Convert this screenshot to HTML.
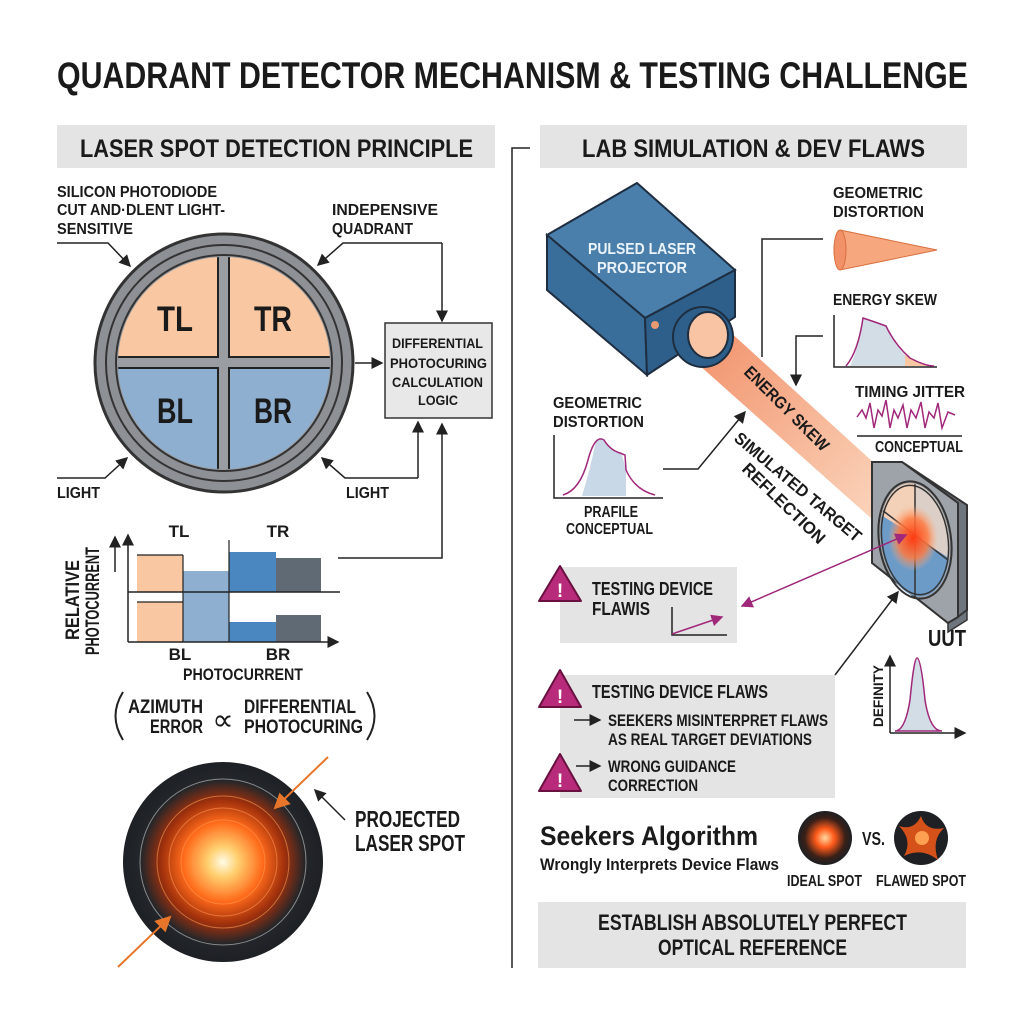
<!DOCTYPE html>
<html><head><meta charset="utf-8"><style>
html,body{margin:0;padding:0;background:#fff}
svg{display:block}
text{font-family:"Liberation Sans",sans-serif;font-weight:bold;fill:#1a1a1a}
</style></head><body>
<svg width="1024" height="1024" viewBox="0 0 1024 1024" xmlns="http://www.w3.org/2000/svg">
<defs>
<radialGradient id="spot" cx="50%" cy="50%" r="50%">
<stop offset="0" stop-color="#fffbe8"/><stop offset="0.15" stop-color="#ffd070"/><stop offset="0.4" stop-color="#ff6a1a"/><stop offset="0.62" stop-color="#a0300c"/><stop offset="0.82" stop-color="#23262a"/><stop offset="1" stop-color="#1d2024"/></radialGradient>
<radialGradient id="spot2" cx="50%" cy="50%" r="50%">
<stop offset="0" stop-color="#ffd9a0"/><stop offset="0.35" stop-color="#ff5a1a"/><stop offset="0.75" stop-color="#3a2018"/><stop offset="1" stop-color="#1d2024"/></radialGradient>
<radialGradient id="hot" cx="50%" cy="50%" r="50%"><stop offset="0" stop-color="#ff3a10"/><stop offset="0.6" stop-color="#ff7a40" stop-opacity=".85"/><stop offset="1" stop-color="#ffb080" stop-opacity="0"/></radialGradient>
<linearGradient id="beam" x1="0" y1="0" x2="1" y2="1"><stop offset="0" stop-color="#f0855a"/><stop offset="1" stop-color="#fad0b5"/></linearGradient>
<marker id="ar" markerWidth="8" markerHeight="8" refX="7" refY="4" orient="auto"><path d="M0,0 L8,4 L0,8 z" fill="#222"/></marker>
<marker id="arp" markerWidth="8" markerHeight="8" refX="7" refY="4" orient="auto"><path d="M0,0 L8,4 L0,8 z" fill="#a0287a"/></marker>
<marker id="arps" markerWidth="8" markerHeight="8" refX="1" refY="4" orient="auto"><path d="M8,0 L0,4 L8,8 z" fill="#a0287a"/></marker>
<marker id="aro" markerWidth="8" markerHeight="8" refX="7" refY="4" orient="auto"><path d="M0,0 L8,4 L0,8 z" fill="#e8762a"/></marker>
</defs>

<text x="57" y="88" font-size="37" textLength="911" lengthAdjust="spacingAndGlyphs">QUADRANT DETECTOR MECHANISM &amp; TESTING CHALLENGE</text>

<rect x="57" y="125" width="438" height="43" fill="#e4e4e4"/>
<text x="80" y="157" font-size="25" textLength="393" lengthAdjust="spacingAndGlyphs">LASER SPOT DETECTION PRINCIPLE</text>
<rect x="540" y="125" width="427" height="43" fill="#e4e4e4"/>
<text x="582" y="157" font-size="25" textLength="343" lengthAdjust="spacingAndGlyphs">LAB SIMULATION &amp; DEV FLAWS</text>
<path d="M530 148 H512 V968" stroke="#222" stroke-width="1.5" fill="none"/>

<g font-size="16">
<text x="57" y="197" textLength="160" lengthAdjust="spacingAndGlyphs">SILICON PHOTODIODE</text>
<text x="57" y="215" textLength="168" lengthAdjust="spacingAndGlyphs">CUT AND·DLENT LIGHT-</text>
<text x="57" y="234" textLength="76" lengthAdjust="spacingAndGlyphs">SENSITIVE</text>
<text x="332" y="215" textLength="106" lengthAdjust="spacingAndGlyphs">INDEPENSIVE</text>
<text x="332" y="234" textLength="81" lengthAdjust="spacingAndGlyphs">QUADRANT</text>
<text x="57" y="498" textLength="43" lengthAdjust="spacingAndGlyphs">LIGHT</text>
<text x="346" y="498" textLength="43" lengthAdjust="spacingAndGlyphs">LIGHT</text>
</g>
<path d="M57 243 H108 L130 266" stroke="#222" stroke-width="1.5" fill="none" marker-end="url(#ar)"/>
<path d="M442 243 H343 L318 265" stroke="#222" stroke-width="1.5" fill="none" marker-end="url(#ar)"/>
<path d="M442 243 V321" stroke="#222" stroke-width="1.5" fill="none" marker-end="url(#ar)"/>
<path d="M355 363 H382" stroke="#222" stroke-width="1.5" marker-end="url(#ar)"/>
<path d="M57 478 H105 L127 458" stroke="#222" stroke-width="1.5" fill="none" marker-end="url(#ar)"/>
<path d="M418 478 H345 L322 458" stroke="#222" stroke-width="1.5" fill="none" marker-end="url(#ar)"/>
<path d="M418 478 V422" stroke="#222" stroke-width="1.5" fill="none" marker-end="url(#ar)"/>

<circle cx="224" cy="363" r="129" fill="#8d9196" stroke="#333" stroke-width="3"/>
<circle cx="224" cy="363" r="118" fill="none" stroke="#333" stroke-width="2"/>
<circle cx="224" cy="363" r="108" fill="#9a9ea3" stroke="#333" stroke-width="2"/>
<clipPath id="cc"><circle cx="224" cy="363" r="106"/></clipPath>
<g clip-path="url(#cc)" stroke="#222" stroke-width="2">
<rect x="100" y="240" width="118" height="117" fill="#f9c8a2"/>
<rect x="229" y="240" width="118" height="117" fill="#f9c8a2"/>
<rect x="100" y="368" width="118" height="117" fill="#8eafd0"/>
<rect x="229" y="368" width="118" height="117" fill="#8eafd0"/>
</g>
<g font-size="35" text-anchor="middle">
<text x="175" y="331" textLength="36" lengthAdjust="spacingAndGlyphs">TL</text>
<text x="273" y="331" textLength="38" lengthAdjust="spacingAndGlyphs">TR</text>
<text x="175" y="423" textLength="36" lengthAdjust="spacingAndGlyphs">BL</text>
<text x="273" y="423" textLength="38" lengthAdjust="spacingAndGlyphs">BR</text>
</g>

<rect x="385" y="323" width="107" height="95" fill="#e8e8e8" stroke="#333" stroke-width="1.5"/>
<g font-size="14">
<text x="392" y="348" textLength="91" lengthAdjust="spacingAndGlyphs">DIFFERENTIAL</text>
<text x="390" y="368" textLength="97" lengthAdjust="spacingAndGlyphs">PHOTOCURING</text>
<text x="392" y="387" textLength="91" lengthAdjust="spacingAndGlyphs">CALCULATION</text>
<text x="418" y="405" textLength="40" lengthAdjust="spacingAndGlyphs">LOGIC</text>
</g>

<rect x="137" y="555" width="46" height="37" fill="#f9c8a2"/>
<rect x="183" y="571" width="46" height="71" fill="#8eafd0"/>
<rect x="229" y="552" width="47" height="40" fill="#4a86bf"/>
<rect x="276" y="558" width="45" height="34" fill="#5f6a75"/>
<rect x="137" y="602" width="46" height="40" fill="#f9c8a2"/>
<rect x="229" y="622" width="47" height="20" fill="#4a86bf"/>
<rect x="276" y="615" width="45" height="27" fill="#5f6a75"/>
<path d="M137 555 H183 M137 602 H183 M183 555 V642 M229 540 V642" stroke="#222" stroke-width="1.2" fill="none"/>
<path d="M128 642 V535" stroke="#222" stroke-width="1.5" marker-end="url(#ar)"/>
<path d="M115 572 V537" stroke="#222" stroke-width="1.5" marker-end="url(#ar)"/>
<path d="M128 642 H338" stroke="#222" stroke-width="1.5" marker-end="url(#ar)"/>
<path d="M128 592 H340" stroke="#222" stroke-width="1.5"/>
<path d="M338 558 H442 V424" stroke="#222" stroke-width="1.5" fill="none" marker-end="url(#ar)"/>
<g font-size="17" text-anchor="middle">
<text x="179" y="537">TL</text>
<text x="278" y="537">TR</text>
<text x="180" y="660">BL</text>
<text x="278" y="660">BR</text>
<text x="243" y="680" textLength="120" lengthAdjust="spacingAndGlyphs">PHOTOCURRENT</text>
</g>
<g font-size="19" transform="translate(79 655) rotate(-90)"><text x="15" y="0" textLength="80" lengthAdjust="spacingAndGlyphs">RELATIVE</text><text x="0" y="20" textLength="108" lengthAdjust="spacingAndGlyphs">PHOTOCURRENT</text></g>

<path d="M123 692 Q108 716 123 740" stroke="#222" stroke-width="2" fill="none"/>
<path d="M367 692 Q382 716 367 740" stroke="#222" stroke-width="2" fill="none"/>
<g font-size="19">
<text x="128" y="713" textLength="75" lengthAdjust="spacingAndGlyphs">AZIMUTH</text>
<text x="150" y="733" textLength="53" lengthAdjust="spacingAndGlyphs">ERROR</text>
<text x="244" y="713" textLength="112" lengthAdjust="spacingAndGlyphs">DIFFERENTIAL</text>
<text x="244" y="733" textLength="119" lengthAdjust="spacingAndGlyphs">PHOTOCURING</text>
</g>
<text x="223" y="730" font-size="30" text-anchor="middle" style="font-weight:normal">∝</text>

<circle cx="223" cy="862" r="100" fill="url(#spot)"/>
<g fill="none" stroke="#ff9a50" stroke-opacity=".6"><circle cx="223" cy="862" r="30"/><circle cx="223" cy="862" r="42"/><circle cx="223" cy="862" r="54"/><circle cx="223" cy="862" r="66"/></g>
<circle cx="223" cy="862" r="83" fill="none" stroke="#8a8a8a" stroke-width="1"/>
<path d="M328 757 L275 808" stroke="#e8762a" stroke-width="2" marker-end="url(#aro)"/>
<path d="M118 967 L170 917" stroke="#e8762a" stroke-width="2" marker-end="url(#aro)"/>
<path d="M345 820 L315 790" stroke="#222" stroke-width="1.5" marker-end="url(#ar)"/>
<text x="355" y="827" font-size="23" textLength="105" lengthAdjust="spacingAndGlyphs">PROJECTED</text>
<text x="355" y="851" font-size="23" textLength="110" lengthAdjust="spacingAndGlyphs">LASER SPOT</text>

<polygon points="690,357 717,320 873,462 873,520" fill="url(#beam)" opacity=".92"/>
<polygon points="547,235 637,183 735,270 645,318" fill="#4a7fab" stroke="#1e2e40" stroke-width="2"/>
<polygon points="547,235 645,318 647,375 547,290" fill="#3a6e9a" stroke="#1e2e40" stroke-width="2"/>
<polygon points="645,318 735,270 735,317 647,375" fill="#2d5f8a" stroke="#1e2e40" stroke-width="2"/>
<text x="588" y="254" font-size="16" style="fill:#eaf2fa" textLength="108" lengthAdjust="spacingAndGlyphs">PULSED LASER</text>
<text x="597" y="273" font-size="16" style="fill:#eaf2fa" textLength="90" lengthAdjust="spacingAndGlyphs">PROJECTOR</text>
<ellipse cx="703" cy="337" rx="30" ry="30" fill="#2d5f8a" stroke="#1e2e40" stroke-width="2"/>
<ellipse cx="708" cy="335" rx="20" ry="23" fill="#f9c4a4" stroke="#1e2e40" stroke-width="2"/>
<circle cx="655" cy="325" r="4" fill="#e89a70"/>
<g font-size="17" transform="translate(743 373) rotate(45)"><text textLength="112" lengthAdjust="spacingAndGlyphs">ENERGY SKEW</text></g>
<g font-size="17" transform="translate(733 440) rotate(40)"><text textLength="160" lengthAdjust="spacingAndGlyphs">SIMULATED TARGET</text></g>
<g font-size="17" transform="translate(741 470) rotate(44)"><text textLength="108" lengthAdjust="spacingAndGlyphs">REFLECTION</text></g>

<polygon points="902,462 967,505 967,610 958,617 958,503" fill="#6f757c" stroke="#333" stroke-width="2"/>
<polygon points="958,617 967,610 967,620 948,632 948,623" fill="#6f757c" stroke="#333" stroke-width="1.5"/>
<polygon points="872,462 902,462 958,503 958,617 948,623 872,563" fill="#9ea3a9" stroke="#333" stroke-width="2"/>
<clipPath id="uc"><ellipse cx="915" cy="540" rx="34" ry="57" transform="rotate(-8 915 540)"/></clipPath>
<g clip-path="url(#uc)">
<rect x="870" y="470" width="100" height="140" fill="#f3d0b8"/>
<rect x="915" y="470" width="60" height="90" fill="#dccfc8"/>
<polygon points="870,508 960,565 960,610 870,610" fill="#6c9bc8"/>
<path d="M882 510 L948 560 M915 470 V610" stroke="#333" stroke-width="1.5"/>
<ellipse cx="913" cy="538" rx="25" ry="33" fill="url(#hot)"/>
</g>
<ellipse cx="915" cy="540" rx="36" ry="59" transform="rotate(-8 915 540)" fill="none" stroke="#333" stroke-width="2"/>
<ellipse cx="915" cy="540" rx="33" ry="55" transform="rotate(-8 915 540)" fill="none" stroke="#333" stroke-width="1.5"/>
<text x="928" y="646" font-size="23" textLength="38" lengthAdjust="spacingAndGlyphs">UUT</text>

<g font-size="16">
<text x="833" y="198" textLength="90" lengthAdjust="spacingAndGlyphs">GEOMETRIC</text>
<text x="833" y="217" textLength="91" lengthAdjust="spacingAndGlyphs">DISTORTION</text>
<text x="833" y="305" textLength="104" lengthAdjust="spacingAndGlyphs">ENERGY SKEW</text>
<text x="855" y="397" textLength="110" lengthAdjust="spacingAndGlyphs">TIMING JITTER</text>
<text x="875" y="452" textLength="88" lengthAdjust="spacingAndGlyphs">CONCEPTUAL</text>
<text x="553" y="408" textLength="89" lengthAdjust="spacingAndGlyphs">GEOMETRIC</text>
<text x="553" y="427" textLength="91" lengthAdjust="spacingAndGlyphs">DISTORTION</text>
<text x="584" y="517" textLength="54" lengthAdjust="spacingAndGlyphs">PRAFILE</text>
<text x="566" y="534" textLength="87" lengthAdjust="spacingAndGlyphs">CONCEPTUAL</text>
</g>
<path d="M840 230 L937 250 L840 270 Q828 250 840 230 z" fill="#f7a77e" stroke="#d87040" stroke-width="1"/>
<ellipse cx="840" cy="250" rx="6" ry="20" fill="#f29068" stroke="#d87040" stroke-width="1"/>
<path d="M823 239 H762 V357" stroke="#222" stroke-width="1.5" fill="none"/>
<path d="M823 336 H796 V385" stroke="#222" stroke-width="1.5" fill="none" marker-end="url(#ar)"/>
<path d="M834 315 V367 H937" stroke="#222" stroke-width="1.5" fill="none"/>
<path d="M850 366 Q858 350 863 318 Q875 320 886 326 Q895 345 905 355 L905 366 z" fill="#d2dde5"/>
<path d="M905 355 Q920 364 932 366 L905 366z" fill="#f9c8a2"/>
<path d="M846 366 Q858 352 863 318 Q875 322 886 326 Q895 345 910 358 Q925 366 934 366" stroke="#a0287a" stroke-width="1.5" fill="none"/>
<path d="M857 417 L862 410 L866 418 L870 403 L874 428 L878 410 L882 416 L886 400 L890 428 L894 410 L898 418 L903 405 L907 428 L911 410 L916 418 L921 402 L925 428 L929 412 L934 418 L938 403 L942 428 L948 412 L955 415" stroke="#a0287a" stroke-width="1.5" fill="none"/>
<path d="M857 436 H962" stroke="#222" stroke-width="1.5"/>
<path d="M554 435 V498 H663" stroke="#222" stroke-width="1.5" fill="none"/>
<path d="M582 496 Q590 470 595 445 Q598 437 603 440 L608 446 L622 455 L626 470 L626 496 z" fill="#c8d8e6"/>
<path d="M563 495 Q580 490 588 460 Q595 434 604 440 Q610 450 620 453 L625 455 L626 470 Q635 490 655 495" stroke="#a0287a" stroke-width="1.5" fill="none"/>
<path d="M663 469 H698 L745 412" stroke="#222" stroke-width="1.5" fill="none" marker-end="url(#ar)"/>

<rect x="560" y="567" width="177" height="76" fill="#e4e4e4"/>
<polygon points="560,566 539,601 581,601" fill="#b82a7a" stroke="#6a1040" stroke-width="2" stroke-linejoin="round"/>
<text x="560" y="597" font-size="19" style="fill:#fff" text-anchor="middle">!</text>
<text x="592" y="595" font-size="18" textLength="121" lengthAdjust="spacingAndGlyphs">TESTING DEVICE</text>
<text x="592" y="615" font-size="18" textLength="58" lengthAdjust="spacingAndGlyphs">FLAWIS</text>
<path d="M672 607 V635 H727" stroke="#222" stroke-width="1.5" fill="none"/>
<path d="M672 634 L722 617" stroke="#a0287a" stroke-width="1.5" marker-end="url(#arp)"/>
<path d="M742 606 L906 535" stroke="#a0287a" stroke-width="1.5" marker-end="url(#arp)" marker-start="url(#arps)"/>
<path d="M835 675 L898 592" stroke="#222" stroke-width="1.5" marker-end="url(#ar)"/>

<rect x="560" y="675" width="275" height="123" fill="#e4e4e4"/>
<polygon points="560,670 539,707 581,707" fill="#b82a7a" stroke="#6a1040" stroke-width="2" stroke-linejoin="round"/>
<text x="560" y="703" font-size="19" style="fill:#fff" text-anchor="middle">!</text>
<polygon points="560,754 539,791 581,791" fill="#b82a7a" stroke="#6a1040" stroke-width="2" stroke-linejoin="round"/>
<text x="560" y="787" font-size="19" style="fill:#fff" text-anchor="middle">!</text>
<text x="592" y="698" font-size="18" textLength="176" lengthAdjust="spacingAndGlyphs">TESTING DEVICE FLAWS</text>
<path d="M574 720 H600" stroke="#222" stroke-width="1.5" marker-end="url(#ar)"/>
<path d="M576 766 H600" stroke="#222" stroke-width="1.5" marker-end="url(#ar)"/>
<g font-size="17">
<text x="608" y="726" textLength="220" lengthAdjust="spacingAndGlyphs">SEEKERS MISINTERPRET FLAWS</text>
<text x="608" y="745" textLength="204" lengthAdjust="spacingAndGlyphs">AS REAL TARGET DEVIATIONS</text>
<text x="608" y="772" textLength="128" lengthAdjust="spacingAndGlyphs">WRONG GUIDANCE</text>
<text x="608" y="791" textLength="90" lengthAdjust="spacingAndGlyphs">CORRECTION</text>
</g>

<path d="M890 733 V656" stroke="#222" stroke-width="1.5" marker-end="url(#ar)"/>
<path d="M890 733 H965" stroke="#222" stroke-width="1.5" marker-end="url(#ar)"/>
<path d="M895 731 Q905 731 910 700 Q914 658 917 658 Q921 658 925 700 Q930 731 942 731 z" fill="#d2dde5" stroke="#a0287a" stroke-width="1.5"/>
<g transform="translate(883 727) rotate(-90)"><text font-size="14" textLength="62" lengthAdjust="spacingAndGlyphs">DEFINITY</text></g>

<text x="540" y="845" font-size="27" textLength="218" lengthAdjust="spacingAndGlyphs">Seekers Algorithm</text>
<text x="540" y="870" font-size="17" textLength="239" lengthAdjust="spacingAndGlyphs">Wrongly Interprets Device Flaws</text>
<circle cx="825" cy="838" r="27" fill="url(#spot2)"/>
<circle cx="921" cy="838" r="27" fill="#1e2024"/>
<path d="M921 816 Q926 832 944 828 Q931 840 938 860 Q922 847 904 856 Q913 840 899 826 Q914 831 921 816z" fill="#e8561a" opacity=".9"/>
<circle cx="922" cy="838" r="7" fill="#ffa050"/>
<text x="862" y="845" font-size="18" textLength="23" lengthAdjust="spacingAndGlyphs">VS.</text>
<text x="787" y="886" font-size="16" textLength="75" lengthAdjust="spacingAndGlyphs">IDEAL SPOT</text>
<text x="876" y="886" font-size="16" textLength="90" lengthAdjust="spacingAndGlyphs">FLAWED SPOT</text>

<rect x="538" y="902" width="428" height="66" fill="#e4e4e4"/>
<text x="598" y="930" font-size="22" textLength="309" lengthAdjust="spacingAndGlyphs">ESTABLISH ABSOLUTELY PERFECT</text>
<text x="658" y="955" font-size="22" textLength="189" lengthAdjust="spacingAndGlyphs">OPTICAL REFERENCE</text>
</svg>
</body></html>
